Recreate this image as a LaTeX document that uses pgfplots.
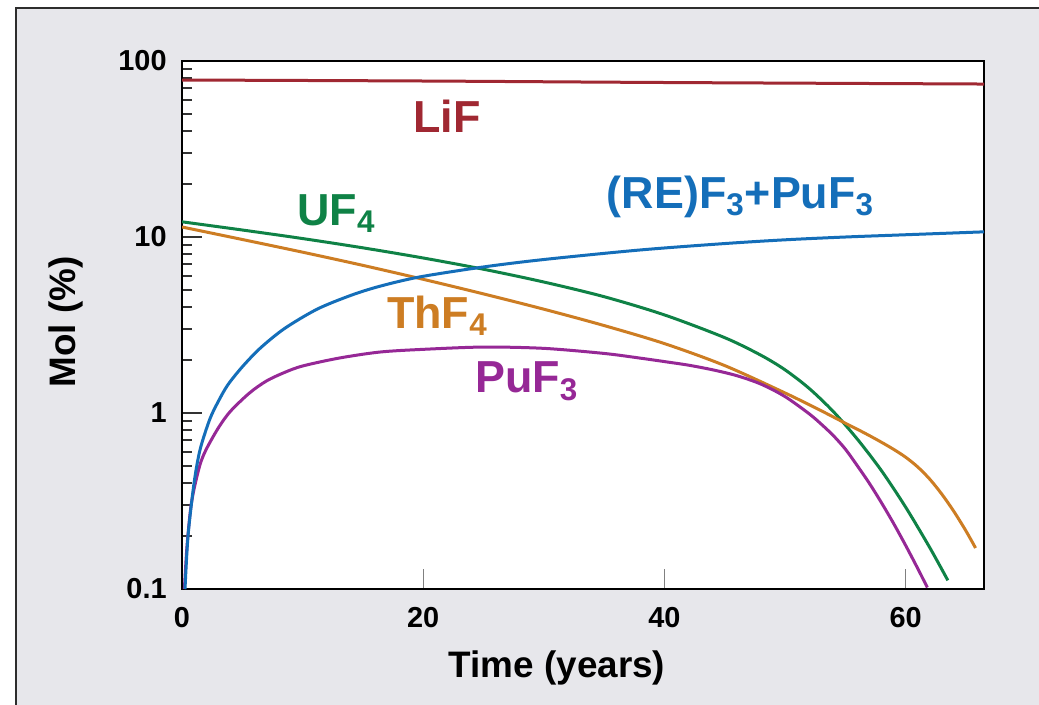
\documentclass[border=0pt]{standalone}
\usepackage{fontspec}
\setmainfont{Liberation Sans}
\usepackage{pgfplots}
\pgfplotsset{compat=1.18}

\definecolor{panelgray}{RGB}{231,231,235}
\definecolor{framegray}{RGB}{45,45,45}
\definecolor{cLiF}{RGB}{160,40,50}
\definecolor{cUF}{RGB}{15,130,70}
\definecolor{cTh}{RGB}{205,125,35}
\definecolor{cPu}{RGB}{150,40,150}
\definecolor{cRE}{RGB}{20,110,185}

\newcommand{\lblfont}{\fontsize{22.5pt}{26pt}\selectfont\bfseries}

\begin{document}
\begin{tikzpicture}
% page and grey panel (1 px of the reference = 0.5bp)
\useasboundingbox (0,0) rectangle (519.5bp,352.5bp);
\fill[white] (0,0) rectangle (519.5bp,352.5bp);
\fill[panelgray] (8bp,-5bp) rectangle (530bp,348.5bp);
\draw[framegray, line width=1bp] (8bp,-5bp) -- (8bp,348.5bp) -- (530bp,348.5bp);

\begin{axis}[
  at={(91bp,58bp)}, anchor=south west,
  scale only axis, width=401bp, height=264bp,
  xmin=0, xmax=66.5, ymin=0.1, ymax=100, ymode=log,
  xtick={0,20,40,60}, xticklabels={0,20,40,60},
  ytick={0.1,1,10,100}, yticklabels={0.1,1,10,100},
  minor ytick={0.2,0.3,0.4,0.5,0.6,0.7,0.8,0.9,2,3,4,5,6,7,8,9,20,30,40,50,60,70,80,90},
  xtick pos=left, ytick pos=left, tick align=inside,
  major tick length=10bp, minor tick length=5bp,
  xtick style={gray, line width=0.6bp},
  ytick style={black!80, line width=0.9bp},
  minor tick style={black!80, line width=0.9bp},
  axis line style={line width=1.3bp},
  axis background/.style={fill=white},
  ticklabel style={font=\fontsize{14.5pt}{16pt}\selectfont\bfseries, inner sep=0pt},
  xticklabel style={yshift=-9bp},
  yticklabel style={xshift=-7.5bp},
  xlabel={Time (years)},
  ylabel={Mol (\%)},
  label style={font=\fontsize{18.5pt}{21pt}\selectfont\bfseries},
  xlabel style={at={(axis description cs:0.4676,0)}, anchor=base, yshift=-44bp},
  ylabel style={at={(axis description cs:-0.1334,0.5057)}, anchor=base},
  every axis plot/.append style={line width=1.5bp, smooth},
  clip=true,
]
% LiF
\addplot[cLiF] coordinates {(0,78) (20,77) (40,75.5) (66.5,74)};
% UF4
\addplot[cUF] coordinates {
  (0,12.2) (5,10.96) (10,9.8) (15,8.68) (20,7.6) (25,6.56) (30,5.55)
  (35,4.58) (40,3.61) (45,2.68) (48,2.13) (50,1.76) (52,1.38) (54,1.02)
  (56,0.71) (58,0.47) (60,0.292) (62,0.172) (63.5,0.112)};
% ThF4
\addplot[cTh] coordinates {
  (0,11.4) (5,9.68) (10,8.2) (15,6.9) (20,5.75) (25,4.75) (30,3.89)
  (35,3.14) (40,2.48) (45,1.86) (50,1.30) (53,1.03) (55,0.875) (56,0.808)
  (57,0.744) (58,0.682) (59,0.622) (60,0.561) (61,0.494) (62,0.421)
  (63,0.346) (64,0.276) (65,0.214) (65.8,0.171)};
% PuF3
\addplot[cPu] coordinates {
  (0.2,0.1) (0.4,0.17) (0.7,0.28) (1,0.37) (1.5,0.51) (2,0.62) (3,0.82)
  (4,1.02) (5.6,1.3) (7,1.52) (8.5,1.7) (10,1.85) (13,2.05) (16.4,2.22)
  (20,2.3) (25,2.37) (30,2.33) (35,2.18) (38,2.05) (40,1.96) (42,1.87)
  (44,1.76) (46,1.63) (48,1.46) (50,1.24) (52,0.99) (53,0.865) (54,0.745)
  (55,0.624) (56,0.501) (57,0.398) (58,0.309) (59,0.236) (60,0.177)
  (61,0.131) (61.8,0.102)};
% (RE)F3 + PuF3
\addplot[cRE] coordinates {
  (0.25,0.1) (0.5,0.2) (1,0.4) (1.5,0.62) (2.3,0.92) (3,1.16) (3.8,1.445)
  (5,1.83) (6.5,2.34) (8.5,3.02) (11.2,3.89) (14,4.66) (16.4,5.25) (19.7,5.93)
  (25,6.76) (30,7.45) (37.9,8.43) (45,9.18) (50,9.64) (55,10.0)
  (60,10.3) (66.5,10.7)};

\node[anchor=base west, text=cLiF, font=\lblfont, inner sep=0pt] at (axis cs:19.14,39.0) {LiF};
\node[anchor=base west, text=cUF, font=\lblfont, inner sep=0pt] at (axis cs:9.53,11.7) {UF\textsubscript{4}};
\node[anchor=base west, text=cTh, font=\lblfont, inner sep=0pt] at (axis cs:16.98,3.04) {ThF\textsubscript{4}};
\node[anchor=base west, text=cPu, font=\lblfont, inner sep=0pt] at (axis cs:24.27,1.30) {PuF\textsubscript{3}};
\node[anchor=base west, text=cRE, font=\lblfont, inner sep=0pt] at (axis cs:35.2,14.6) {(RE)F\textsubscript{3}+PuF\textsubscript{3}};
\end{axis}
\end{tikzpicture}
\end{document}
